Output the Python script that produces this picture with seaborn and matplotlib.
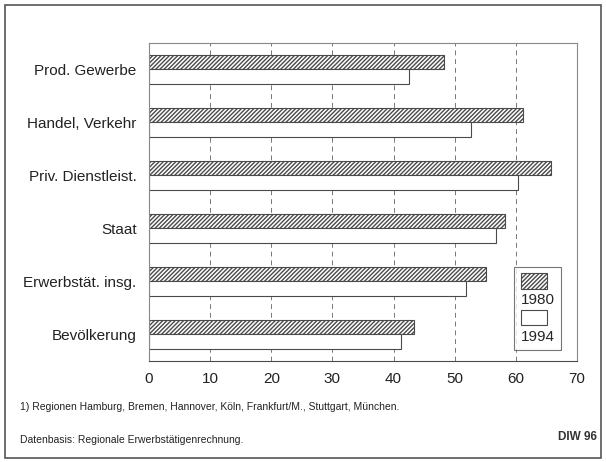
import pandas as pd
import matplotlib
matplotlib.use("Agg")
import matplotlib.pyplot as plt
import matplotlib.patches as mpatches
import seaborn as sns

categories = [
    "Prod. Gewerbe",
    "Handel, Verkehr",
    "Priv. Dienstleist.",
    "Staat",
    "Erwerbstät. insg.",
    "Bevölkerung",
]
values_1980 = [48.2, 61.2, 65.8, 58.3, 55.2, 43.4]
values_1994 = [42.5, 52.7, 60.4, 56.8, 51.9, 41.3]
years = ["1980", "1994"]
x_ticks = [0, 10, 20, 30, 40, 50, 60, 70]

df = pd.DataFrame(
    {
        "kategorie": categories * 2,
        "wert": values_1980 + values_1994,
        "jahr": [years[0]] * len(categories) + [years[1]] * len(categories),
    }
)

sns.set_style("white")
plt.rcParams["font.family"] = ["Liberation Sans", "DejaVu Sans"]
plt.rcParams["hatch.linewidth"] = 1.0

edge = "#4a4a4a"
fig = plt.figure(figsize=(6.06, 4.62), dpi=100)
ax = fig.add_axes([0.246, 0.219, 0.706, 0.688])

sns.barplot(
    data=df,
    x="wert",
    y="kategorie",
    hue="jahr",
    hue_order=years,
    orient="h",
    width=0.54,
    gap=0,
    palette=["white", "white"],
    edgecolor=edge,
    linewidth=0.8,
    legend=False,
    ax=ax,
)
for bar in ax.containers[0]:
    bar.set_hatch("////////")

ax.set_xlim(0, 70)
ax.set_ylim(5.5, -0.5)
ax.set_xticks(x_ticks)
ax.set_xlabel("")
ax.set_ylabel("")
ax.set_axisbelow(True)
ax.grid(axis="x", linestyle=(0, (5, 4)), color="#777777", linewidth=0.7)
ax.tick_params(axis="x", length=4, width=0.8, color=edge, labelsize=11, pad=4,
               labelcolor="#222222")
ax.tick_params(axis="y", length=0, labelsize=11, pad=9, labelcolor="#222222")
for side in ["top", "right", "left", "bottom"]:
    ax.spines[side].set_color("#888888")
    ax.spines[side].set_linewidth(0.8)
ax.spines["bottom"].set_color(edge)

h1980 = mpatches.Patch(facecolor="white", edgecolor=edge, hatch="////////", linewidth=0.8)
h1994 = mpatches.Patch(facecolor="white", edgecolor=edge, linewidth=0.8)
blank = mpatches.Patch(facecolor="none", edgecolor="none")
leg = ax.legend(
    [h1980, blank, h1994, blank],
    ["", years[0], "", years[1]],
    loc="lower right",
    bbox_to_anchor=(0.98, 0.01),
    handlelength=1.7,
    handleheight=1.2,
    handletextpad=-1.7,
    labelspacing=0.15,
    borderpad=0.4,
    fontsize=11,
    frameon=True,
    fancybox=False,
    edgecolor="#555555",
)
leg.get_frame().set_linewidth(0.8)

fig.text(0.033, 0.118, "1) Regionen Hamburg, Bremen, Hannover, Köln, Frankfurt/M., Stuttgart, München.",
         fontsize=7.5, color="#222222", va="center")
fig.text(0.033, 0.048, "Datenbasis: Regionale Erwerbstätigenrechnung.",
         fontsize=7.5, color="#222222", va="center")
fig.text(0.985, 0.055, "DIW 96", fontsize=8.5, fontweight="bold", color="#333333",
         ha="right", va="center")

fig.add_artist(mpatches.Rectangle((0.008, 0.008), 0.984, 0.982, transform=fig.transFigure,
                                  fill=False, edgecolor="#555555", linewidth=1.2))

fig.savefig("out.png", dpi=100)
plt.close(fig)
